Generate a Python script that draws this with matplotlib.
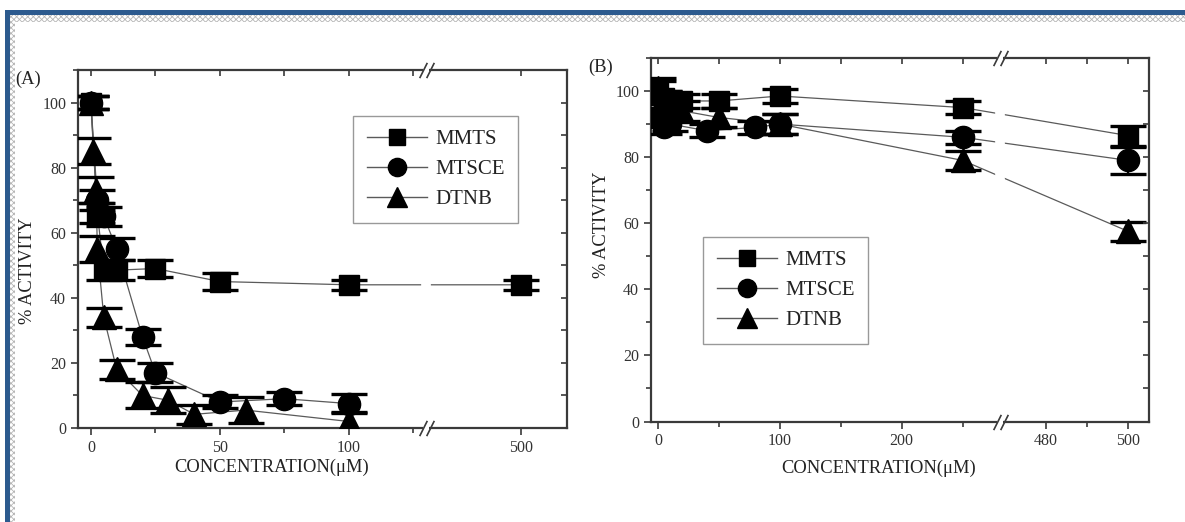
import numpy as np
import matplotlib
matplotlib.use('Agg')
import matplotlib.pyplot as plt
from matplotlib.patches import Rectangle
from matplotlib.lines import Line2D
from matplotlib.transforms import blended_transform_factory, offset_copy

# ---------------- data ----------------
series_names = ['MMTS', 'MTSCE', 'DTNB']

# Panel A
a_mmts_x = [0, 2.5, 5, 10, 25, 50, 100, 500]
a_mmts_y = [100, 66, 48.5, 48.5, 49, 45, 44, 44]
a_mmts_e = [2, 3, 3, 3, 2.6, 2.5, 1.5, 1.5]

a_mtsce_x = [0, 2.5, 5, 10, 20, 25, 50, 75, 100]
a_mtsce_y = [100, 70, 65, 55, 28, 17, 8, 9, 7.5]
a_mtsce_e = [2, 3, 3, 3.5, 2.5, 3, 2, 2, 3]

a_dtnb_x = [0, 1, 2, 2.5, 5, 10, 20, 30, 40, 60, 100]
a_dtnb_y = [100, 85, 73, 55, 34, 18, 10, 8.5, 4.2, 5.5, 2]
a_dtnb_e = [2, 4, 4, 4, 3, 3, 4, 4, 3, 4, 3]

# Panel B
b_mmts_x = [0, 5, 10, 20, 50, 100, 250, 500]
b_mmts_y = [100, 98, 97, 97, 97, 98.5, 95, 86.5]
b_mmts_e = [3, 2, 2, 2, 2, 2, 2, 3]

b_mtsce_x = [0, 5, 10, 40, 80, 100, 250, 500]
b_mtsce_y = [92, 89, 90, 88, 89, 90, 86, 79]
b_mtsce_e = [3, 2, 2, 2, 2, 3, 2, 4]

b_dtnb_x = [0, 5, 10, 20, 50, 100, 250, 500]
b_dtnb_y = [101, 97, 95, 94, 92, 90, 79, 57.5]
b_dtnb_e = [3, 3, 3, 3, 3, 3, 3, 3]

a_xticks = [0, 50, 100, 500]
a_xminor = [25, 75, 125]
b_xticks = [0, 100, 200, 480, 500]
b_xminor = [50, 150, 250, 490]
yticks = [0, 20, 40, 60, 80, 100]
yminor = [10, 30, 50, 70, 90, 110]

# ---------------- style ----------------
W, H = 1185, 522
fig = plt.figure(figsize=(W / 100, H / 100), dpi=100)
plt.rcParams['font.family'] = ['Liberation Serif', 'DejaVu Serif']
SPINE = '#3a3a3a'
LINEC = '#5a5a5a'
TXT = '#333333'

markers = ['s', 'o', '^']
msizes = [14, 16, 17]


def make_scale(xb_left, xb_right, slope):
    eps = 1e-3

    def fwd(x):
        x = np.asarray(x, dtype=float)
        return np.where(x <= xb_left, x,
                        np.where(x >= xb_right, xb_left + eps + (x - xb_right) * slope,
                                 xb_left + (x - xb_left) * eps / (xb_right - xb_left)))

    def inv(u):
        u = np.asarray(u, dtype=float)
        return np.where(u <= xb_left, u,
                        np.where(u >= xb_left + eps, xb_right + (u - xb_left - eps) / slope,
                                 xb_left + (u - xb_left) * (xb_right - xb_left) / eps))
    return fwd, inv


def px_rect(l, t, r, b):
    return [l / W, 1 - b / H, (r - l) / W, (b - t) / H]


def setup_axes(rect, funcs, xlim, xt, xm, xb):
    ax = fig.add_axes(rect)
    ax.set_xscale('function', functions=funcs)
    ax.set_xlim(*xlim)
    ax.set_ylim(0, 110)
    ax.set_xticks(xt)
    ax.set_xticks(xm, minor=True)
    ax.set_yticks(yticks)
    ax.set_yticks(yminor, minor=True)
    ax.set_xticklabels([str(v) for v in xt])
    for s in ax.spines.values():
        s.set_color(SPINE)
        s.set_linewidth(1.6)
    ax.tick_params(which='both', direction='out', colors=SPINE, labelcolor=TXT,
                   labelsize=11.5, width=1.2, top=False, right=False)
    ax.tick_params(which='major', length=5)
    ax.tick_params(which='minor', length=3.5)
    # top ticks (inward)
    axt = ax.twiny()
    axt.set_xscale('function', functions=funcs)
    axt.set_xlim(*xlim)
    axt.set_xticks(xt)
    axt.set_xticks(xm, minor=True)
    axt.tick_params(which='both', direction='in', length=4, width=1.2, colors=SPINE,
                    labeltop=False, top=True, bottom=False)
    for s in axt.spines.values():
        s.set_visible(False)
    # right ticks (inward)
    axr = ax.twinx()
    axr.set_ylim(0, 110)
    axr.set_yticks(yticks)
    axr.set_yticks(yminor, minor=True)
    axr.tick_params(which='both', direction='in', length=4, width=1.2, colors=SPINE,
                    labelright=False, right=True, left=False)
    for s in axr.spines.values():
        s.set_visible(False)
    # gap in the data lines at the break
    ax.axvline(xb, color='white', lw=7, zorder=2.2)
    # break marks
    tr = blended_transform_factory(ax.transData, ax.transAxes)
    for yy in (0, 1):
        ax.plot([xb], [yy], marker='s', ms=5, mfc='white', mec='white', mew=0,
                transform=tr, clip_on=False, zorder=7)
        for dx in (-2.6, 2.6):
            t2 = offset_copy(tr, fig=fig, x=dx, y=0, units='points')
            ax.plot([xb], [yy], marker=[(-0.25, -0.5), (0.25, 0.5)], ms=11,
                    color=SPINE, mew=1.2, transform=t2, clip_on=False, zorder=8)
    return ax


def draw_series(ax, xs, ys, es, m, ms):
    ax.plot(xs, ys, '-', color=LINEC, lw=0.9, zorder=2)
    ax.errorbar(xs, ys, yerr=es, fmt='none', ecolor='black', elinewidth=1.6,
                capsize=13, capthick=2.4, zorder=4)
    ax.plot(xs, ys, ls='none', marker=m, ms=ms, mfc='black', mec='black', zorder=5)


def add_legend(ax, anchor):
    handles = [Line2D([], [], color=LINEC, lw=1, marker=m, ms=ms * 0.82,
                      mfc='black', mec='black') for m, ms in zip(markers, msizes)]
    leg = ax.legend(handles, series_names, loc='upper left', bbox_to_anchor=anchor,
                    bbox_transform=fig.transFigure, borderaxespad=0, fontsize=15,
                    handlelength=2.9, handletextpad=0.4, labelspacing=0.5,
                    borderpad=0.65, fancybox=False, framealpha=1, edgecolor='#999999')
    leg.get_frame().set_linewidth(1.0)
    for t in leg.get_texts():
        t.set_color('#222222')
    return leg


# ---------------- Panel A ----------------
fa = make_scale(130, 463.3, 1.0)
axA = setup_axes(px_rect(78, 70, 567, 428), fa, (-5, 517.8), a_xticks, a_xminor, 130)
for (xs, ys, es), m, ms in zip([(a_mmts_x, a_mmts_y, a_mmts_e),
                                (a_mtsce_x, a_mtsce_y, a_mtsce_e),
                                (a_dtnb_x, a_dtnb_y, a_dtnb_e)], markers, msizes):
    draw_series(axA, xs, ys, es, m, ms)
axA.set_xlabel('CONCENTRATION(\u03bcM)', fontsize=13.3, color='#222222')
axA.xaxis.set_label_coords(0.395, -0.085)
axA.set_ylabel('% ACTIVITY', fontsize=13.3, color='#222222')
axA.yaxis.set_label_coords(-0.085, 0.44)
add_legend(axA, (353 / W, 1 - 116 / H))
fig.text(15 / W, 1 - 79 / H, '(A)', fontsize=13.3, color='#222222', va='center')

# ---------------- Panel B ----------------
fb = make_scale(281, 468.9, 3.375)
axB = setup_axes(px_rect(651, 58, 1149, 421.5), fb, (-5.7, 505.0), b_xticks, b_xminor, 281)
for (xs, ys, es), m, ms in zip([(b_mmts_x, b_mmts_y, b_mmts_e),
                                (b_mtsce_x, b_mtsce_y, b_mtsce_e),
                                (b_dtnb_x, b_dtnb_y, b_dtnb_e)], markers, msizes):
    draw_series(axB, xs, ys, es, m, ms)
axB.set_xlabel('CONCENTRATION(\u03bcM)', fontsize=13.3, color='#222222')
axB.xaxis.set_label_coords(0.457, -0.105)
axB.set_ylabel('% ACTIVITY', fontsize=13.3, color='#222222')
axB.yaxis.set_label_coords(-0.082, 0.54)
add_legend(axB, (703 / W, 1 - 237 / H))
fig.text(588 / W, 1 - 67 / H, '(B)', fontsize=13.3, color='#222222', va='center')

# ---------------- page frame ----------------
BLUE = '#2c5a8e'
fig.add_artist(Rectangle((5 / W, 1 - 15 / H), 1 - 5 / W, 5 / H, transform=fig.transFigure,
                         facecolor=BLUE, edgecolor='none'))
fig.add_artist(Rectangle((5 / W, 0), 5 / W, 1 - 10 / H, transform=fig.transFigure,
                         facecolor=BLUE, edgecolor='none'))
plt.rcParams['hatch.linewidth'] = 0.6
fig.add_artist(Rectangle((10 / W, 1 - 22 / H), 1 - 10 / W, 7 / H, transform=fig.transFigure,
                         facecolor='white', edgecolor='#b5b5b5', lw=0, hatch='xxxxxx'))
fig.add_artist(Rectangle((10 / W, 0), 5 / W, 1 - 22 / H, transform=fig.transFigure,
                         facecolor='white', edgecolor='#b5b5b5', lw=0, hatch='xxxxxx'))

fig.savefig('out.png', dpi=100)
